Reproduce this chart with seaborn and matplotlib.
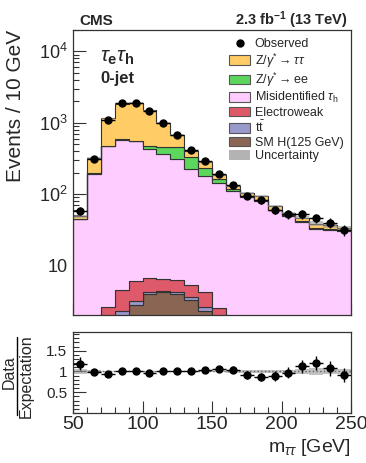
import numpy as np
import pandas as pd
import matplotlib
matplotlib.use("Agg")
import matplotlib.pyplot as plt
import seaborn as sns
from matplotlib.patches import Patch
from matplotlib.lines import Line2D
from matplotlib.ticker import FixedLocator, MultipleLocator, FuncFormatter, LogLocator, NullFormatter

# Configuration
sns.set_theme(style="ticks")
plt.rcParams['font.family'] = ['Liberation Sans', 'DejaVu Sans']
plt.rcParams['mathtext.fontset'] = 'custom'
plt.rcParams['mathtext.rm'] = 'Liberation Sans'
plt.rcParams['mathtext.it'] = 'Liberation Sans:italic'
plt.rcParams['mathtext.bf'] = 'Liberation Sans:bold'

# Data
bin_edges = [50, 60, 70, 80, 90, 100, 110, 120, 130, 140, 150,
             160, 170, 180, 190, 200, 210, 220, 230, 240, 250]
bin_centers = [55, 65, 75, 85, 95, 105, 115, 125, 135, 145,
               155, 165, 175, 185, 195, 205, 215, 225, 235, 245]

observed = [58, 313, 1080, 1890, 1890, 1440, 1000, 680, 410, 287,
            193, 135, 95, 81, 60, 52, 52, 46, 39, 31]
z_tautau = [5, 124, 676, 1265, 1332, 1020, 544, 217, 79, 46,
            22, 13, 10, 11, 7, 4, 4.7, 4.6, 3.7, 2]
z_ee = [0, 2, 5, 8, 10, 37, 89, 146, 103, 51,
        19, 8, 3, 2, 1, 1, 1, 1, 1, 1]
misid = [43, 191, 462, 576, 542, 421, 361, 304, 219, 177,
         140, 107, 89, 79, 58, 48, 40, 32, 31, 30]
electroweak = [0.5, 0.8, 1.2, 2.2, 2.85, 2.45, 2.0, 1.95, 1.8, 1.7,
               0.9, 0.7, 0.6, 0.5, 0.5, 0.5, 0.4, 0.4, 0.4, 0.4]
ttbar = [0.1, 0.1, 0.2, 0.35, 0.3, 0.3, 0.25, 0.3, 0.3, 0.3,
         0.2, 0.2, 0.2, 0.2, 0.2, 0.2, 0.2, 0.2, 0.2, 0.2]
higgs = [0.3, 0.8, 1.2, 1.9, 2.8, 3.9, 4.15, 3.9, 3.25, 2.25,
         1.4, 0.8, 0.5, 0.3, 0.2, 0.15, 0.1, 0.1, 0.05, 0.05]
unc_rel = [0.05, 0.03, 0.02, 0.02, 0.02, 0.02, 0.02, 0.02, 0.02, 0.02,
           0.02, 0.03, 0.03, 0.03, 0.03, 0.04, 0.05, 0.08, 0.07, 0.07]

proc_order = ["ztt", "zee", "misid", "ew", "tt", "hig"]
proc_values = [z_tautau, z_ee, misid, electroweak, ttbar, higgs]
proc_labels = [r"Z/$\gamma^{*}\rightarrow\tau\tau$", r"Z/$\gamma^{*}\rightarrow$ee",
               r"Misidentified $\tau_{\rm h}$", "Electroweak", r"t$\bar{\rm t}$",
               "SM H(125 GeV)"]
palette = {"ztt": "#FFCC66", "zee": "#5CD65C", "misid": "#FFCCFF",
           "ew": "#DE5A6A", "tt": "#9999CC", "hig": "#8A6553"}

df = pd.DataFrame({
    "m": np.tile(bin_centers, len(proc_order)),
    "w": np.concatenate([np.array(v, dtype=float) for v in proc_values]),
    "proc": np.repeat(proc_order, len(bin_centers)),
})

edges = np.array(bin_edges, dtype=float)
obs = np.array(observed, dtype=float)
total = np.sum([np.array(v, dtype=float) for v in proc_values], axis=0)
unc = np.array(unc_rel)

W, H = 366, 463
fig = plt.figure(figsize=(W / 100, H / 100), dpi=100)
ax = fig.add_axes([73 / W, 1 - 315 / H, 278 / W, 285 / H])
rax = fig.add_axes([73 / W, 1 - 413 / H, 278 / W, 81 / H])

# Stack
sns.histplot(data=df, x="m", weights="w", hue="proc", hue_order=proc_order,
             bins=bin_edges, multiple="stack", element="step", fill=True,
             palette=palette, alpha=1, edgecolor="#333333", linewidth=0.8,
             legend=False, ax=ax)
ax.set_yscale("log")

# Uncertainty band
ax.stairs(total * (1 + unc), edges, baseline=total * (1 - unc), fill=True,
          color="#999999", alpha=0.6, linewidth=0)

# Observed
ax.errorbar(bin_centers, obs, xerr=5, yerr=np.sqrt(obs), fmt="o", color="black",
            markersize=5, elinewidth=1, capsize=0, zorder=5)

ax.set_xlim(50, 250)
ax.set_ylim(2, 2e4)
ax.set_xlabel("")
ax.set_ylabel("")
ax.yaxis.set_major_locator(FixedLocator([10, 100, 1000, 10000]))
ax.yaxis.set_major_formatter(FuncFormatter(
    lambda v, p: {10: "10", 100: r"$10^{2}$", 1000: r"$10^{3}$", 10000: r"$10^{4}$"}.get(int(round(v)), "")))
ax.yaxis.set_minor_locator(LogLocator(base=10, subs=np.arange(2, 10)))
ax.yaxis.set_minor_formatter(NullFormatter())
ax.xaxis.set_major_locator(MultipleLocator(50))
ax.xaxis.set_minor_locator(MultipleLocator(10))
ax.tick_params(axis="x", labelbottom=False)

# Ratio
ratio = obs / total
rax.stairs(1 + unc, edges, baseline=1 - unc, fill=True, color="#999999", alpha=0.6, linewidth=0)
rax.axhline(1, color="#666666", linestyle=":", linewidth=1)
rax.errorbar(bin_centers, ratio, xerr=5, yerr=np.sqrt(obs) / total, fmt="o", color="black",
             markersize=5, elinewidth=1, capsize=0, zorder=5)
rax.set_xlim(50, 250)
rax.set_ylim(0, 1.95)
rax.set_xlabel("")
rax.set_ylabel("")
rax.yaxis.set_major_locator(FixedLocator([0.5, 1, 1.5]))
rax.yaxis.set_major_formatter(FuncFormatter(lambda v, p: f"{v:g}"))
rax.yaxis.set_minor_locator(MultipleLocator(0.1))
rax.xaxis.set_major_locator(MultipleLocator(50))
rax.xaxis.set_minor_locator(MultipleLocator(10))

for a in (ax, rax):
    a.tick_params(which="both", direction="in", top=False, right=False, color="#333333")
    a.tick_params(which="major", length=9, width=0.8)
    a.tick_params(which="minor", length=4.5, width=0.8)
    for s in a.spines.values():
        s.set_linewidth(0.9)
        s.set_color("#333333")
ax.tick_params(axis="y", which="major", labelsize=13, pad=4)
rax.tick_params(axis="y", which="major", labelsize=11, pad=4)
rax.tick_params(axis="x", which="major", labelsize=14, pad=2)

# Legend
handles = [Line2D([], [], marker="o", color="black", linestyle="none", markersize=5)]
handles += [Patch(facecolor=palette[p], edgecolor="#555555", linewidth=0.8) for p in proc_order]
handles.append(Patch(facecolor="#b3b3b3", edgecolor="none"))
labels = ["Observed"] + proc_labels + ["Uncertainty"]
fig.legend(handles, labels, loc="upper left", bbox_to_anchor=(229 / W, 1 - 38 / H),
           frameon=False, fontsize=9, borderpad=0, borderaxespad=0,
           handlelength=1.7, handleheight=0.8, handletextpad=0.35, labelspacing=0.1)

# Texts
fig.text(79 / W, 1 - 25 / H, "CMS", fontsize=11, fontweight="bold", va="baseline")
fig.text(348 / W, 1 - 25 / H, r"2.3 $\mathbf{fb^{-1}}$ (13 TeV)", fontsize=10.5,
         fontweight="bold", ha="right", va="baseline")
fig.text(100 / W, 1 - 62 / H, r"$\tau_{\mathbf{e}}\tau_{\mathbf{h}}$", fontsize=15, va="baseline")
fig.text(100 / W, 1 - 83 / H, "0-jet", fontsize=12, fontweight="bold", va="baseline")
fig.text(16 / W, 1 - 30 / H, "Events / 10 GeV", fontsize=15, rotation=90, ha="center", va="top")

# Ratio axis title as a fraction
fig.text(9 / W, 1 - 372 / H, "Data", fontsize=11.5, rotation=90, ha="center", va="center")
fig.add_artist(Line2D([17 / W, 17 / W], [1 - 337 / H, 1 - 415 / H],
                      transform=fig.transFigure, color="black", linewidth=1))
fig.text(26 / W, 1 - 376 / H, "Expectation", fontsize=11.5, rotation=90, ha="center", va="center")

fig.text(351 / W, 1 - 452 / H, r"m$_{\tau\tau}$ [GeV]", fontsize=14, ha="right", va="baseline")

fig.savefig("out.png", dpi=100)
